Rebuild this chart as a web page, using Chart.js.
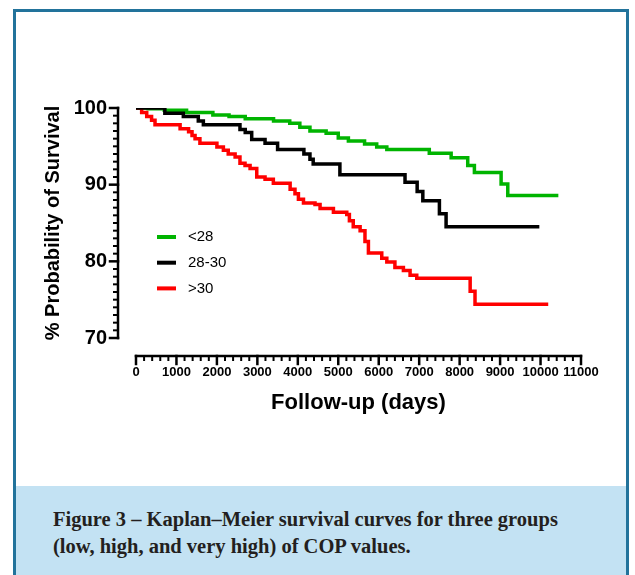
<!DOCTYPE html>
<html>
<head>
<meta charset="utf-8">
<script src="https://cdn.jsdelivr.net/npm/chart.js@4.4.0/dist/chart.umd.min.js"></script>
<style>
  body { margin: 0; background: #fff; }
  #frame { position: absolute; left: 13px; top: 9px; width: 610px; height: 600px;
           border: 3px solid #22739b; border-bottom: none; }
  #caption { position: absolute; left: 16px; top: 486px; width: 610px; height: 100px; background: #c3e2f3; }
  #caption p { margin: 0; position: absolute; left: 37px; top: 20px;
               font: bold 20.5px/27px "Liberation Serif", "Times New Roman", serif; color: #231f20; }
  #wrap { position: absolute; left: 0; top: 0; width: 635px; height: 420px; }
</style>
</head>
<body>
<div id="frame"></div>
<div id="caption"><p>Figure 3 – Kaplan–Meier survival curves for three groups<br>(low, high, and very high) of COP values.</p></div>
<div id="wrap"><canvas id="km" width="635" height="420"></canvas></div>
<script>
// group labels
const groups = ['<28', '28-30', '>30'];

// <28 (green)
const lowDays = [0, 300, 700, 1250, 1900, 2300, 2700, 3400, 3800, 4050, 4300, 4700, 5000, 5250, 5650, 5950, 6200, 7250, 7790, 8200, 8365, 9025, 9190, 10440];
const lowSurv = [100, 99.9, 99.7, 99.4, 99.1, 98.9, 98.6, 98.3, 98.0, 97.5, 97.0, 96.7, 96.1, 95.7, 95.3, 94.9, 94.6, 94.1, 93.5, 92.5, 91.6, 90.1, 88.6, 88.6];

// 28-30 (black)
const midDays = [0, 713, 1170, 1540, 1665, 2570, 2700, 2860, 3190, 3500, 4150, 4300, 4380, 5040, 6650, 6950, 7090, 7500, 7665, 9970];
const midSurv = [100, 99.3, 98.9, 98.3, 97.8, 97.2, 96.8, 95.9, 95.4, 94.6, 94.0, 93.3, 92.7, 91.3, 90.3, 89.1, 87.9, 86.2, 84.5, 84.5];

// >30 (red)
const highDays = [0, 140, 265, 385, 470, 1090, 1300, 1385, 1460, 1580, 2000, 2160, 2280, 2450, 2570, 2695, 2820, 2985, 3190, 3395, 3810, 3930, 4015, 4140, 4425, 4550, 4880, 5210, 5275, 5370, 5540, 5660, 5745, 6075, 6200, 6400, 6610, 6775, 6940, 8260, 8380, 10190];
const highSurv = [100, 99.4, 98.9, 98.4, 97.8, 97.3, 96.9, 96.4, 96.0, 95.4, 94.9, 94.5, 94.0, 93.6, 92.8, 92.5, 92.1, 91.0, 90.7, 90.2, 89.4, 88.8, 88.1, 87.6, 87.4, 86.9, 86.4, 86.1, 85.3, 84.5, 84.0, 82.6, 81.1, 80.4, 79.9, 79.2, 78.8, 78.2, 77.8, 76.1, 74.4, 74.4];

const colors = ['#00b400', '#000000', '#ff0000'];
const xMin = 0, xMax = 11000, xMajor = 1000, xMinor = 200;
const yMin = 70, yMax = 100, yMajor = 10, yMinor = 1;

const toPts = (d, s) => d.map((t, i) => ({ x: t, y: s[i] }));
const FONT = '"Liberation Sans", Arial, sans-serif';

// GraphPad-style detached axes with minor ticks
const prismAxes = {
  id: 'prismAxes',
  afterDraw(chart) {
    const { ctx, chartArea, scales: { x, y } } = chart;
    const ax = chartArea.left - 18;
    const ay = chartArea.bottom + 18;
    ctx.save();
    ctx.strokeStyle = '#000';
    ctx.lineCap = 'square';
    const seg = (x1, y1, x2, y2, w) => {
      ctx.lineWidth = w; ctx.beginPath(); ctx.moveTo(x1, y1); ctx.lineTo(x2, y2); ctx.stroke();
    };
    seg(ax, y.getPixelForValue(yMax), ax, y.getPixelForValue(yMin), 2.5);
    for (let v = yMin; v <= yMax; v += yMinor) {
      const py = y.getPixelForValue(v);
      const major = v % yMajor === 0;
      seg(ax - (major ? 8 : 4), py, ax, py, major ? 2.5 : 2);
    }
    seg(x.getPixelForValue(xMin), ay, x.getPixelForValue(xMax), ay, 2.5);
    for (let v = xMin; v <= xMax; v += xMinor) {
      const px = x.getPixelForValue(v);
      const major = v % xMajor === 0;
      seg(px, ay, px, ay + (major ? 8 : 4), major ? 2.5 : 2);
    }
    ctx.restore();
  }
};

// legend inside plot area
const insideLegend = {
  id: 'insideLegend',
  afterDatasetsDraw(chart) {
    const { ctx } = chart;
    ctx.save();
    chart.data.datasets.forEach((ds, i) => {
      const ry = 237 + i * 25.7;
      ctx.strokeStyle = ds.borderColor;
      ctx.lineWidth = 4;
      ctx.beginPath(); ctx.moveTo(157, ry); ctx.lineTo(176, ry); ctx.stroke();
      ctx.fillStyle = '#000';
      ctx.font = '15px ' + FONT;
      ctx.textBaseline = 'middle';
      ctx.fillText(ds.label, 188, ry);
    });
    ctx.restore();
  }
};

new Chart(document.getElementById('km'), {
  type: 'line',
  data: {
    datasets: [
      { label: groups[0], data: toPts(lowDays, lowSurv), borderColor: colors[0], order: 2 },
      { label: groups[1], data: toPts(midDays, midSurv), borderColor: colors[1], order: 0 },
      { label: groups[2], data: toPts(highDays, highSurv), borderColor: colors[2], order: 1 }
    ]
  },
  options: {
    responsive: false,
    animation: false,
    layout: { padding: { left: 37, top: 108, right: 54, bottom: 0 } },
    elements: {
      line: { stepped: 'before', borderWidth: 3.5, fill: false },
      point: { radius: 0, hoverRadius: 0 }
    },
    plugins: { legend: { display: false }, tooltip: { enabled: false } },
    scales: {
      x: {
        type: 'linear', min: xMin, max: xMax,
        grid: { display: false, drawTicks: false },
        border: { display: false },
        ticks: { stepSize: xMajor, autoSkip: false, maxRotation: 0, padding: 27, color: '#000',
                 callback: v => String(v),
                 font: { family: FONT, size: 13, weight: 'bold' } },
        title: { display: true, text: 'Follow-up (days)', color: '#000', padding: { top: 4, bottom: 4 },
                 font: { family: FONT, size: 22, weight: 'bold' } },
        afterFit: s => { s.height = 82; }
      },
      y: {
        min: yMin, max: yMax,
        grid: { display: false, drawTicks: false },
        border: { display: false },
        ticks: { stepSize: yMajor, padding: 29, color: '#000',
                 font: { family: FONT, size: 20, weight: 'bold' } },
        title: { display: true, text: '% Probability of Survival', color: '#000', padding: { top: 4, bottom: 4 },
                 font: { family: FONT, size: 20, weight: 'bold' } },
        afterFit: s => { s.width = 99; }
      }
    }
  },
  plugins: [prismAxes, insideLegend]
});
</script>
</body>
</html>
